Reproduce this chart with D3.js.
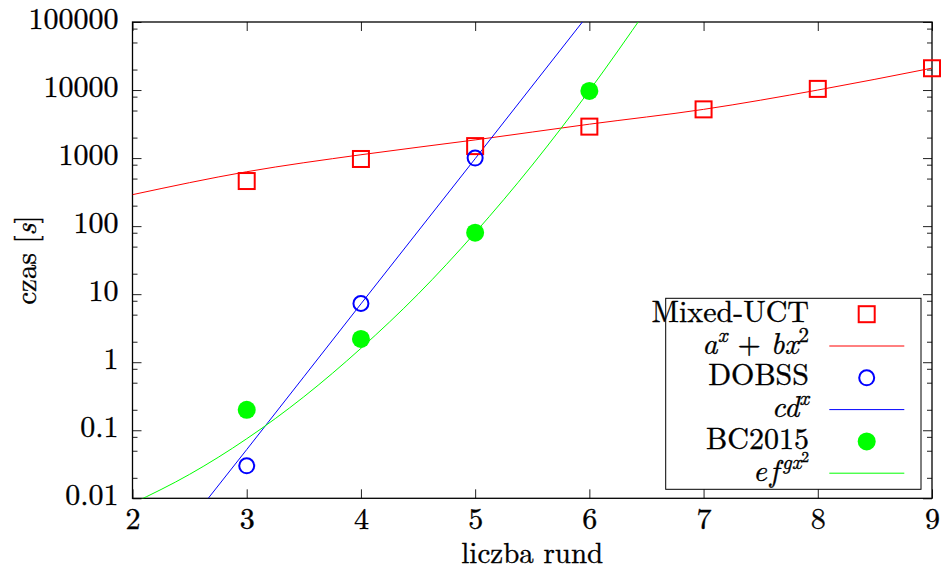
<!DOCTYPE html>
<html lang="pl">
<head><meta charset="utf-8"/>
<style>
body { margin:0; background:#fff; }
.tick line { stroke:#222; stroke-width:1px; }
.fit { fill:none; stroke-width:1px; }
text { stroke:#000; stroke-width:0.35px; }
</style>
</head>
<body>
<svg width="941" height="570" id="chart"></svg>

<script src="https://cdn.jsdelivr.net/npm/d3@7"></script>
<script>

// punkty pomiarowe
var rounds = [3, 4, 5, 6, 7, 8, 9];
var mixedUct = [460, 970, 1500, 2900, 5200, 10400, 20900];
var dobssRounds = [3, 4, 5];
var dobss = [0.03, 7.3, 1000];
var bcRounds = [3, 4, 5, 6];
var bc2015 = [0.2, 2.2, 80, 9700];

// krzywe dopasowania
var redFitX = [2, 3, 4, 5, 6, 7, 8, 9];
var redFit = [290, 630, 1120, 1850, 3150, 5200, 10000, 21000];
var blueFitX = [2.5, 3, 4, 5, 6];
var blueFit = [0.0045, 0.052, 7.2, 980, 135000];
var greenFitX = [2, 2.5, 3, 3.5, 4, 4.5, 5, 5.5, 6, 6.5];
var greenFit = [0.0084, 0.0225, 0.075, 0.31, 1.6, 10, 80, 790, 9800, 150000];

var xTicks = [2, 3, 4, 5, 6, 7, 8, 9];
var yTicks = [0.01, 0.1, 1, 10, 100, 1000, 10000, 100000];
var yTickLabels = ["0.01", "0.1", "1", "10", "100", "1000", "10000", "100000"];
var yMinorMult = [2, 5, 8];

var FONT = "'Latin Modern Roman', serif";
var svg = d3.select("#chart"),
    pL = 132.5, pR = 932, pT = 22, pB = 498.3;

var x = d3.scaleLinear().domain([2, 9]).range([pL, pR]),
    y = d3.scaleLog().domain([0.01, 100000]).range([pB, pT]);

var yMinor = [];
yTicks.slice(0, -1).forEach(function(t){
	yMinorMult.forEach(m => yMinor.push(t * m));
});

svg.append("defs").append("clipPath").attr("id", "clip")
	.append("rect").attr("x", pL).attr("y", pT)
	.attr("width", pR - pL).attr("height", pB - pT);

// osie
function axisG(a, tx, ty){
	var g = svg.append("g").attr("transform", "translate(" + tx + "," + ty + ")").call(a);
	g.select(".domain").remove();
	g.attr("font-family", FONT).attr("font-size", 30);
	return g;
}

axisG(d3.axisBottom(x).tickValues(xTicks).tickSize(-9).tickPadding(9).tickFormat(d3.format("d")), 0, pB);
axisG(d3.axisTop(x).tickValues(xTicks).tickSize(-9).tickFormat(""), 0, pT);

var gy = axisG(d3.axisLeft(y).tickValues(yTicks).tickSize(-9).tickPadding(14)
	.tickFormat((d, i) => yTickLabels[i]), pL, 0);
gy.selectAll("text").attr("dy", "0.22em");
axisG(d3.axisLeft(y).tickValues(yMinor).tickSize(-5).tickFormat(""), pL, 0);
axisG(d3.axisRight(y).tickValues(yTicks).tickSize(-9).tickFormat(""), pR, 0);
axisG(d3.axisRight(y).tickValues(yMinor).tickSize(-5).tickFormat(""), pR, 0);

svg.append("rect").attr("x", pL).attr("y", pT)
	.attr("width", pR - pL).attr("height", pB - pT)
	.attr("fill", "none").attr("stroke", "#000").attr("stroke-width", 1.3);

// opisy osi
svg.append("text").attr("x", (pL + pR) / 2).attr("y", 563)
	.attr("text-anchor", "middle").attr("font-family", FONT).attr("font-size", 29).text("liczba rund");

var yl = svg.append("text").attr("transform", "translate(36," + (pT + pB) / 2 + ") rotate(-90)")
	.attr("text-anchor", "middle").attr("font-family", FONT).attr("font-size", 29);
yl.append("tspan").text("czas [");
yl.append("tspan").style("font-style", "italic").text("s");
yl.append("tspan").text("]");

// serie
var line = d3.line().curve(d3.curveMonotoneX).x(d => x(d[0])).y(d => y(d[1]));
var plot = svg.append("g").attr("clip-path", "url(#clip)");

function pairs(xs, ys){ return xs.map((v, i) => [v, ys[i]]); }

function squares(g, pts){
	g.selectAll(null).data(pts).enter().append("rect")
		.attr("x", d => x(d[0]) - 8).attr("y", d => y(d[1]) - 8)
		.attr("width", 16).attr("height", 16)
		.attr("fill", "none").attr("stroke", "#ff0000").attr("stroke-width", 2);
}
function circles(g, pts, filled){
	g.selectAll(null).data(pts).enter().append("circle")
		.attr("cx", d => x(d[0])).attr("cy", d => y(d[1]))
		.attr("r", filled ? 9 : 7.5)
		.attr("fill", filled ? "#00ff00" : "none")
		.attr("stroke", filled ? "none" : "#0000ff").attr("stroke-width", 2);
}

squares(svg.append("g"), pairs(rounds, mixedUct));
plot.append("path").attr("class", "fit").attr("stroke", "#ff0000").attr("d", line(pairs(redFitX, redFit)));
circles(svg.append("g"), pairs(dobssRounds, dobss), false);
plot.append("path").attr("class", "fit").attr("stroke", "#0000ff").attr("d", line(pairs(blueFitX, blueFit)));
circles(svg.append("g"), pairs(bcRounds, bc2015), true);
plot.append("path").attr("class", "fit").attr("stroke", "#00ff00").attr("d", line(pairs(greenFitX, greenFit)));

// legenda
var lg = svg.append("g").attr("font-family", FONT);
lg.append("rect").attr("x", 665.7).attr("y", 298.3).attr("width", 255.3).attr("height", 191)
	.attr("fill", "none").attr("stroke", "#000").attr("stroke-width", 1);

var textX = 809, sampleX = 866.7, row0 = 321.7, rowH = 31.8;

function legendText(i){
	return lg.append("text").attr("x", textX).attr("y", row0 + i * rowH)
		.attr("text-anchor", "end").attr("font-size", 30);
}
function sampleLine(i, color){
	var yy = row0 + i * rowH - 7.5;
	lg.append("line").attr("x1", 829.3).attr("x2", 904.3).attr("y1", yy).attr("y2", yy)
		.attr("stroke", color).attr("stroke-width", 1);
}

legendText(0).text("Mixed-UCT");
squares(lg, [[x.invert(sampleX), y.invert(row0 - 7.5)]]);

var t1 = legendText(1);
t1.append("tspan").style("font-style", "italic").text("a");
t1.append("tspan").attr("dy", -12).attr("font-size", 21).style("font-style", "italic").text("x");
t1.append("tspan").attr("dy", 12).text(" + ");
t1.append("tspan").style("font-style", "italic").text("bx");
t1.append("tspan").attr("dy", -12).attr("font-size", 21).text("2");
sampleLine(1, "#ff0000");

legendText(2).text("DOBSS");
circles(lg, [[x.invert(sampleX), y.invert(row0 + 2 * rowH - 7.5)]], false);

var t3 = legendText(3);
t3.append("tspan").style("font-style", "italic").text("cd");
t3.append("tspan").attr("dy", -12).attr("font-size", 21).style("font-style", "italic").text("x");
sampleLine(3, "#0000ff");

legendText(4).text("BC2015");
circles(lg, [[x.invert(sampleX), y.invert(row0 + 4 * rowH - 7.5)]], true);

var t5 = legendText(5);
t5.append("tspan").style("font-style", "italic").text("e");
t5.append("tspan").attr("dx", 3).style("font-style", "italic").text("f");
t5.append("tspan").attr("dx", 3).attr("dy", -12).attr("font-size", 21).style("font-style", "italic").text("gx");
t5.append("tspan").attr("dy", -7).attr("font-size", 15).text("2");
sampleLine(5, "#00ff00");

</script>
</body>
</html>
